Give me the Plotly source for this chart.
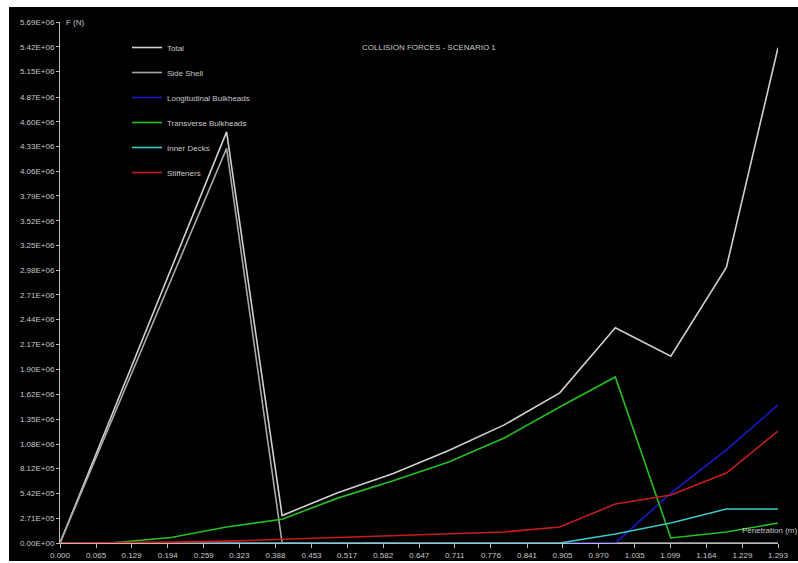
import plotly.graph_objects as go

# Penetration (m)
penetration = [0.0, 0.1, 0.2, 0.3, 0.4, 0.5, 0.6, 0.7, 0.8, 0.9, 1.0, 1.1, 1.2, 1.293]

# Forces (N)
total = [0, 1.50e6, 3.00e6, 4.49e6, 0.30e6, 0.55e6, 0.76e6, 1.01e6, 1.29e6, 1.64e6, 2.35e6, 2.04e6, 3.01e6, 5.41e6]
side_shell = [0, 1.44e6, 2.88e6, 4.31e6, 0, 0, 0, 0, 0, 0, 0, 0, 0, 0]
longitudinal = [0, 0, 0, 0, 0, 0, 0, 0, 0, 0, 0, 0.546e6, 1.016e6, 1.507e6]
transverse = [0, 0.005e6, 0.06e6, 0.175e6, 0.26e6, 0.49e6, 0.68e6, 0.885e6, 1.147e6, 1.485e6, 1.813e6, 0.055e6, 0.12e6, 0.218e6]
inner_decks = [0, 0, 0, 0, 0, 0, 0, 0, 0, 0, 0.098e6, 0.218e6, 0.371e6, 0.371e6]
stiffeners = [0, 0.002e6, 0.01e6, 0.02e6, 0.04e6, 0.06e6, 0.08e6, 0.10e6, 0.12e6, 0.175e6, 0.426e6, 0.524e6, 0.764e6, 1.223e6]

series_names = ["Total", "Side Shell", "Longitudinal Bulkheads", "Transverse Bulkheads", "Inner Decks", "Stiffeners"]
series_values = [total, side_shell, longitudinal, transverse, inner_decks, stiffeners]
series_colors = ["#d0d0d0", "#a8a8a8", "#1a1ac8", "#22c022", "#3cc8c8", "#c81c1c"]

x_tickvals = [0.000, 0.065, 0.129, 0.194, 0.259, 0.323, 0.388, 0.453, 0.517, 0.582, 0.647,
              0.711, 0.776, 0.841, 0.905, 0.970, 1.035, 1.099, 1.164, 1.229, 1.293]
x_ticktext = ["%.3f" % v for v in x_tickvals]

y_ticktext = ["0.00E+00", "2.71E+05", "5.42E+05", "8.12E+05", "1.08E+06", "1.35E+06", "1.62E+06",
              "1.90E+06", "2.17E+06", "2.44E+06", "2.71E+06", "2.98E+06", "3.25E+06", "3.52E+06",
              "3.79E+06", "4.06E+06", "4.33E+06", "4.60E+06", "4.87E+06", "5.15E+06", "5.42E+06", "5.69E+06"]
y_tickvals = [float(t) for t in y_ticktext]

FONT = "Liberation Sans Narrow, Liberation Sans, Arial, sans-serif"
TXT = "#c8c8c8"

fig = go.Figure()
for i, (name, vals, col) in enumerate(zip(series_names, series_values, series_colors)):
    fig.add_trace(go.Scatter(
        x=penetration, y=vals, mode="lines", name=name,
        line=dict(color=col, width=1.6), legendgroup="g%d" % i,
    ))

W, H = 798, 563
L, R, T, B = 60, 20, 22, 20
pw, ph = W - L - R, H - T - B

def px2paper_x(px):
    return (px - L) / pw

def px2paper_y(py):
    return (H - B - py) / ph

fig.update_layout(
    width=W, height=H,
    margin=dict(l=L, r=R, t=T, b=B, autoexpand=False),
    paper_bgcolor="white",
    plot_bgcolor="black",
    font=dict(family=FONT, size=8, color=TXT),
    showlegend=True,
    legend=dict(
        x=px2paper_x(127), y=px2paper_y(33), xanchor="left", yanchor="top",
        bgcolor="rgba(0,0,0,0)", font=dict(size=8, color=TXT, family=FONT),
        itemwidth=30, tracegroupgap=6,
    ),
    shapes=[dict(
        type="rect", xref="paper", yref="paper", layer="below",
        x0=px2paper_x(9), x1=px2paper_x(800), y0=px2paper_y(561), y1=px2paper_y(7),
        fillcolor="black", line=dict(width=0),
    )],
    annotations=[
        dict(text="COLLISION FORCES - SCENARIO 1", xref="paper", yref="paper",
             x=px2paper_x(360), y=px2paper_y(47), xanchor="left", yanchor="middle",
             showarrow=False, font=dict(size=8, color=TXT, family=FONT)),
        dict(text="F (N)", xref="paper", yref="paper",
             x=px2paper_x(64), y=1, xanchor="left", yanchor="middle",
             showarrow=False, font=dict(size=8, color=TXT, family=FONT)),
        dict(text="Penetration (m)", xref="paper", yref="paper",
             x=px2paper_x(740), y=px2paper_y(530), xanchor="left", yanchor="middle",
             showarrow=False, font=dict(size=8, color=TXT, family=FONT)),
    ],
)

fig.update_xaxes(
    range=[0, 1.293], tickvals=x_tickvals, ticktext=x_ticktext, automargin=False,
    showgrid=False, zeroline=False, showline=True, linecolor="#b8b8b8", linewidth=1,
    ticks="outside", ticklen=4, tickcolor="#b8b8b8", tickfont=dict(size=8, color=TXT, family=FONT),
)
fig.update_yaxes(
    range=[0, 5.69e6], tickvals=y_tickvals, ticktext=y_ticktext, automargin=False,
    showgrid=False, zeroline=False, showline=True, linecolor="#b8b8b8", linewidth=1,
    ticks="outside", ticklen=3, tickcolor="#b8b8b8", tickfont=dict(size=8, color=TXT, family=FONT),
)

fig.write_html("out.html")
